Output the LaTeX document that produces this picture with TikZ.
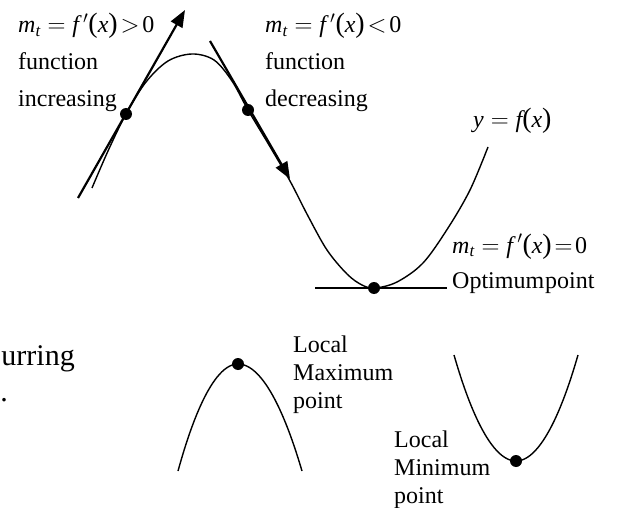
\documentclass[tikz,border=0pt]{standalone}
\usepackage{amsmath}
\usepackage{fontspec}
\setmainfont{Liberation Serif}
\usetikzlibrary{arrows.meta}
\tikzset{
  curve/.style={line width=1.4pt},
  tangent/.style={line width=2.2pt},
  tangarrow/.style={tangent,-{Triangle[length=17pt,width=13pt]}},
  dotpt/.style={circle,fill,inner sep=0pt,minimum size=12pt},
  toplbl/.style={anchor=base west,inner sep=0pt,align=left,font=\fontsize{24}{37}\selectfont},
  lbl/.style={anchor=base west,inner sep=0pt,align=left,font=\fontsize{24}{28}\selectfont},
  cutlbl/.style={anchor=base east,inner sep=0pt,font=\fontsize{30}{36}\selectfont}
}
\newcommand{\iv}[1]{\text{\itshape #1}}
\newcommand{\trel}[1]{\mathrel{\mkern-3mu#1\mkern-3mu}}
\newcommand{\pr}[1]{\mathopen{\text{\fontsize{28}{28}\selectfont(}}#1\mathclose{\text{\fontsize{28}{28}\selectfont)}}}

\begin{document}
\begin{tikzpicture}[x=1pt,y=-1pt]
    \useasboundingbox (0,0) rectangle (624,508);
    % main curve y=f(x)
    \draw[curve] plot[smooth,tension=0.55] coordinates {(92,188) (108,151) (126,114) (146,82)
      (168,61) (192,54) (214,60) (232,81) (248,110) (269,145) (290,181) (308,216) (327,250)
      (347,274) (362,285) (375,288) (397,282) (423,263) (448,228) (470,190) (488,147)};
    % tangents
    \coordinate (incA) at (78,198); \coordinate (incB) at (185,10);
    \coordinate (decA) at (210,41); \coordinate (decB) at (290,179);
    \coordinate (optA) at (315,288); \coordinate (optB) at (447,288);
    \draw[tangarrow] (incA)--(incB);
    \draw[tangarrow] (decA)--(decB);
    \draw[tangent] (optA)--(optB);
    \node[dotpt] (ptinc) at (126,114) {};
    \node[dotpt] (ptdec) at (248,110) {};
    \node[dotpt] (ptopt) at (374,288) {};
    % labels (base = last line)
    \node[toplbl] (lblinc) at (18,107) {$\iv{m}_{\iv{t}} = \iv{f}\,'\pr{\iv{x}} \trel{>} \text{0}$\\function\\increasing};
    \node[toplbl] (lbldec) at (265,107) {$\iv{m}_{\iv{t}} = \iv{f}\,'\pr{\iv{x}} \trel{<} \text{0}$\\function\\decreasing};
    \node[lbl] (lblfx) at (473,128) {$\iv{y} = \iv{f}\pr{\iv{x}}$};
    \node[lbl,font=\fontsize{24}{35}\selectfont] (lblopt) at (452,288) {$\iv{m}_{\iv{t}} = \iv{f}\,'\pr{\iv{x}} \trel{=} \text{0}$\\Optimum\kern1pt point};
    \node[cutlbl] (lblcut) at (75,365) {urring};
    \node[cutlbl] (lbldot) at (8,401) {.};
    % local max and min
    \draw[curve] (178,471) parabola bend (238,364) (302,471);
    \node[dotpt] (ptmax) at (238,364) {};
    \node[lbl] (lblmax) at (293,408) {Local\\Maximum\\point};
    \draw[curve] (454,355) parabola bend (516,461) (578,355);
    \node[dotpt] (ptmin) at (516,461) {};
    \node[lbl] (lblmin) at (394,503) {Local\\Minimum\\point};
  \end{tikzpicture}
\end{document}
